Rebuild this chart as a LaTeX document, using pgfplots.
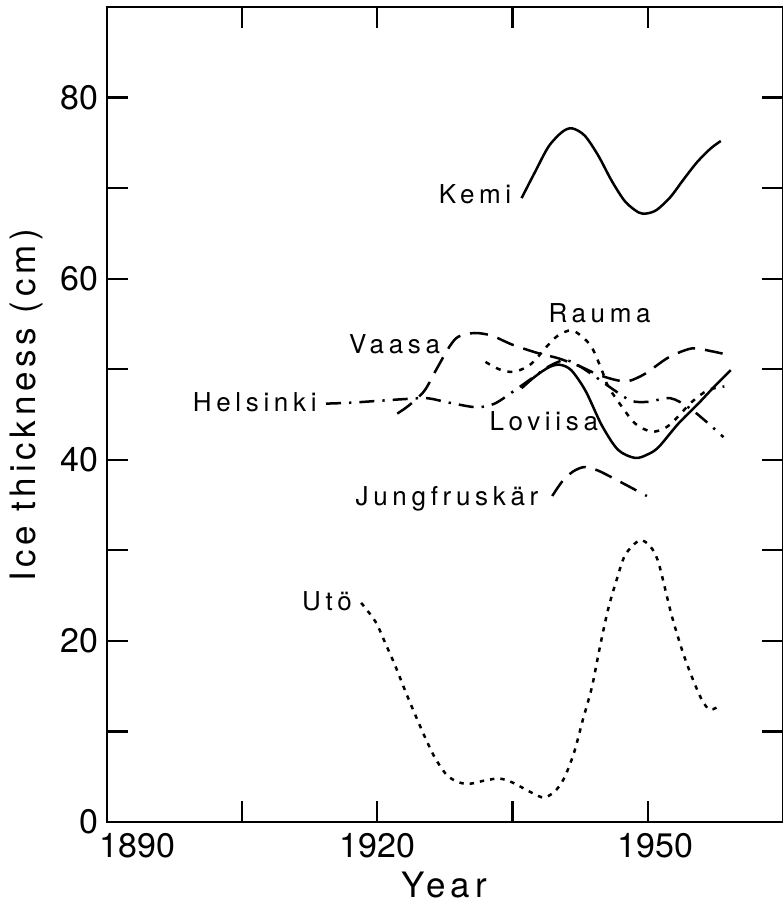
\documentclass[border=0pt]{standalone}
\usepackage{pgfplots}
\pgfplotsset{compat=1.18}
\usepackage{fontspec}
\setmainfont{TeX Gyre Heros}
\newfontfamily\lblfont[LetterSpace=18]{TeX Gyre Heros}
\newfontfamily\axfont[LetterSpace=13.5]{TeX Gyre Heros}
\tikzset{lbl/.style={font=\lblfont\fontsize{13}{13}\selectfont, inner sep=0pt}}

\begin{document}
\begin{tikzpicture}
\begin{axis}[
  scale only axis, width=338pt, height=407.5pt,
  xmin=1890, xmax=1965, ymin=0, ymax=90,
  axis line style={line width=1.2pt},
  xtick={1890,1905,...,1965},
  xticklabels={{\makebox[0pt][l]{\hspace*{-3.5pt}1890}},,1920,,{\hspace*{8pt}1950},},
  ytick={0,10,...,90},
  yticklabels={0,,20,,40,,60,,80,},
  xtick pos=both, ytick pos=both,
  xticklabel pos=lower, yticklabel pos=left,
  tick align=inside, major tick length=10.5pt,
  tick style={line width=1.1pt, black},
  /pgf/number format/assume math mode=true,
  ticklabel style={font=\fontsize{17}{17}\selectfont, inner sep=0pt},
  xticklabel style={yshift=-5.5pt},
  yticklabel style={xshift=-4pt},
  xlabel={Year},
  xlabel style={at={(axis description cs:0.499,-0.0775)}, anchor=center, inner sep=0pt, font=\axfont\fontsize{17.5}{17.5}\selectfont},
  ylabel={Ice thickness (cm)},
  ylabel style={at={(axis description cs:-0.1198,0.511)}, anchor=center, inner sep=0pt, font=\axfont\fontsize{17.5}{17.5}\selectfont},
  every axis plot/.append style={line width=1.25pt, black, smooth, no markers},
]
% Kemi
\addplot[solid] coordinates {(1936.0,68.9) (1937.5,71.8) (1939.0,74.6) (1940.5,76.2) (1941.6,76.6) (1943.0,75.8) (1944.5,73.6) (1946.0,70.8) (1947.5,68.5) (1949.0,67.3) (1949.9,67.2) (1951.0,67.6) (1952.5,69.0) (1954.0,71.0) (1955.5,72.9) (1957.0,74.4) (1958.1,75.2)};
% Loviisa
\addplot[solid] coordinates {(1936.0,47.9) (1937.5,49.2) (1939.0,50.2) (1940.2,50.5) (1941.5,49.9) (1943.1,47.6) (1944.9,43.8) (1946.7,41.1) (1948.6,40.2) (1950.0,40.6) (1951.2,41.4) (1953.4,44.0) (1955.6,46.2) (1957.4,48.1) (1959.2,49.9)};
% Helsinki
\addplot[dash pattern=on 7.5pt off 4pt on 1.2pt off 4pt] coordinates {(1914.3,46.2) (1917,46.3) (1920,46.5) (1923,46.7) (1925.5,46.8) (1928,46.3) (1931,45.8) (1933,46.2) (1935,47.5) (1937,48.9) (1939,50.3) (1940.7,51.0) (1942,50.6) (1944,49.3) (1946.4,47.6) (1948.2,46.5) (1950,46.4) (1952.5,46.8) (1954.5,45.8) (1956.5,44.2) (1958.4,42.5)};
% Vaasa
\addplot[dash pattern=on 9pt off 5pt] coordinates {(1922.2,45.1) (1923.5,46.0) (1925.2,47.6) (1926.5,49.9) (1928.0,52.5) (1929.0,53.6) (1930.8,54.0) (1932.7,53.7) (1935.0,52.7) (1937.9,51.75) (1940.1,51.2) (1942.5,50.3) (1944.5,49.4) (1946.5,48.8) (1947.9,48.7) (1949.7,49.5) (1952.3,51.3) (1954.9,52.3) (1957.0,52.0) (1958.4,51.7)};
% Rauma
\addplot[dash pattern=on 2.5pt off 3.5pt] coordinates {(1932.0,50.8) (1933.5,50.0) (1935.0,49.7) (1936.5,50.2) (1937.5,51.0) (1938.6,52.3) (1940.0,53.7) (1941.5,54.3) (1942.7,53.6) (1943.8,52.4) (1944.9,49.9) (1945.6,48.1) (1947.1,45.9) (1948.6,44.0) (1950.4,43.1) (1951.9,43.5) (1953.0,44.4) (1954.9,46.4) (1956.7,47.7) (1958.5,48.1)};
% Jungfruskar
\addplot[dash pattern=on 9pt off 5pt] coordinates {(1939.4,36.0) (1940.5,37.6) (1941.7,38.7) (1943.0,39.2) (1944.5,38.8) (1946.3,37.9) (1948.2,36.9) (1949.9,36.0)};
% Uto
\addplot[dash pattern=on 2.2pt off 3pt] coordinates {(1918.2,24.2) (1919.8,22.1) (1920.9,19.7) (1922.0,17.2) (1923.2,14.2) (1924.3,11.6) (1925.4,9.1) (1926.5,6.9) (1927.9,5.0) (1929.8,4.2) (1932.0,4.6) (1933.5,4.8) (1934.9,4.4) (1937.2,3.2) (1938.5,2.7) (1939.7,3.4) (1940.7,4.8) (1941.8,7.6) (1942.8,11.3) (1943.8,14.9) (1944.7,19.4) (1945.6,23.5) (1946.5,26.6) (1947.5,29.5) (1949.1,31.1) (1950.3,30.4) (1951.2,28.6) (1952.6,23.0) (1953.8,19.0) (1954.9,16.0) (1956.0,13.5) (1956.9,12.4) (1958.1,12.9)};

\node[lbl, anchor=east] at (axis cs:1934.9,69.3) {Kemi};
\node[lbl, anchor=center] at (axis cs:1944.65,56.2) {Rauma};
\node[lbl, anchor=east] at (axis cs:1927.0,52.8) {Vaasa};
\node[lbl, anchor=east] at (axis cs:1913.3,46.4) {Helsinki};
\node[lbl, anchor=west] at (axis cs:1932.4,44.3) {Loviisa};
\node[lbl, anchor=base east] at (axis cs:1937.9,35.0) {Jungfruskär};
\node[lbl, anchor=east] at (axis cs:1917.2,24.4) {Utö};
\end{axis}
\pgfresetboundingbox
\path (current axis.south west) ++(-53.5pt,-41pt) coordinate (bl);
\path (current axis.north east) ++(0pt,3.5pt) coordinate (tr);
\useasboundingbox (bl) rectangle (tr);
\end{tikzpicture}
\end{document}
